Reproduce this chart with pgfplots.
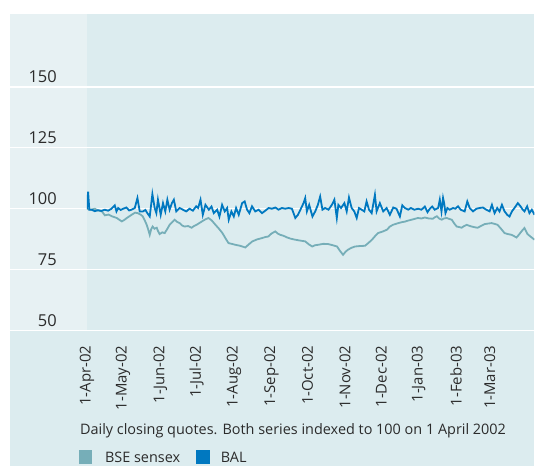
\documentclass[border=0pt]{standalone}
\usepackage{pgfplots}
\pgfplotsset{compat=1.18}
\usepackage{fontspec}
\setmainfont{Open Sans}
\definecolor{panel}{HTML}{DCECEF}
\definecolor{leftcol}{HTML}{E7F1F3}
\definecolor{balc}{RGB}{0,120,192}
\definecolor{bsec}{RGB}{118,174,184}
\definecolor{txt}{HTML}{2B2B2B}
\begin{document}
\begin{tikzpicture}[x=1bp,y=1bp]
\fill[white] (0,0) rectangle (535,467);
\fill[panel] (10,0) rectangle (535,453);
\fill[leftcol] (10,136) rectangle (87,453);
\foreach \yy in {136,197,258,319,380}{\draw[white,line width=1.3bp] (10,\yy) -- (535,\yy);}
\begin{axis}[
  at={(87bp,136bp)}, anchor=south west,
  width=448bp, height=316bp, scale only axis,
  xmin=0, xmax=371, ymin=50, ymax=179.5,
  axis line style={draw=none},
  major tick length=0pt,
  /pgf/number format/assume math mode=true,
  ytick={50,75,100,125,150},
  yticklabel style={font=\fontsize{16.5}{19}\selectfont, text=txt, anchor=east, inner sep=0pt, xshift=-30bp, yshift=10bp},
  xtick={0,30,61,91,122,153,183,214,244,275,306,334},
  xticklabels={1-Apr-02,1-May-02,1-Jun-02,1-Jul-02,1-Aug-02,1-Sep-02,1-Oct-02,1-Nov-02,1-Dec-02,1-Jan-03,1-Feb-03,1-Mar-03},
  xticklabel style={font=\fontsize{15}{17}\selectfont, text=txt, yshift=-15bp, rotate=90, anchor=east, inner sep=0pt},
  clip=true,
]
\addplot[bsec, line width=1.8bp] coordinates {
(0,100) (3,99.6) (6.6,100) (9,99.3) (12.4,98.9) (14.9,97.3) (18,97.6) (20.7,96.9) (24.8,96.2) (26.5,95.6) (28.9,94.8) (31,95.4) (33.1,96.2) (35.5,97.0) (38,97.8) (40,98.4) (42.1,98.2) (44.5,97.6) (46.3,96.9) (48,95.2) (49.6,93.4) (51,91.2) (52.1,89.3) (53.3,91.6) (54.5,92.7) (56,91.8) (57.9,92.2) (59,90.8) (60.3,89.6) (62.5,90.3) (64.5,90.0) (66.5,91.6) (68.6,93.4) (70.5,94.4) (72.7,95.5) (74.8,94.6) (76.9,94.1) (79,93.1) (81,92.7) (84,92.9) (86.8,92.2) (88.8,92.9) (90.9,93.4) (93.5,94.2) (96,95.0) (98.5,95.7) (100.8,96.2) (103.5,95.2) (106.6,93.4) (109.5,91.8) (112.4,90.0) (115,87.8) (117.4,85.9) (120,85.6) (123.1,85.2) (127,84.8) (131.4,84.1) (134,85.3) (137.2,86.6) (141,87.4) (145.5,88.0) (148,88.4) (150.4,88.6) (153,89.8) (156.2,90.7) (158.3,89.8) (160.3,89.3) (163,88.9) (166.1,88.2) (169,87.7) (172.7,87.3) (176,87.0) (181,86.6) (184,85.4) (186.8,84.5) (189,85.0) (191.7,85.2) (196,85.6) (200,85.5) (204,85.0) (207.4,84.5) (210,82.6) (212.4,81.1) (214.5,82.4) (216.5,83.2) (219.5,84.0) (222.3,84.5) (226.5,84.7) (230.6,84.8) (233.5,86.0) (236.4,87.3) (239,88.8) (241.3,90.0) (245,90.6) (248.8,91.4) (251,92.6) (253.7,93.4) (257.5,94.0) (261.2,94.5) (263.6,94.7) (266.1,95.1) (270,95.6) (274.4,96.2) (277.4,96.0) (280.2,96.4) (283.5,96.0) (286.8,95.9) (288.5,96.5) (290.1,96.9) (292,96.0) (294.2,95.5) (296,96.0) (298.3,96.2) (300.5,95.8) (302.5,95.5) (304.5,94.0) (306.6,92.7) (308.6,92.5) (310.7,92.2) (312.8,92.9) (314.9,93.4) (317,93.0) (319,92.7) (321.5,92.4) (324,92.2) (327,93.0) (329.8,93.7) (332.5,93.9) (335.5,94.1) (338,93.8) (340.5,93.4) (343.5,91.7) (346.3,90.0) (349,89.6) (352.1,89.3) (354,88.8) (356.2,88.2) (358.3,89.4) (360.3,90.7) (362.8,92.1) (365.3,89.6) (368,88.5) (371.1,87.3)
};
\addplot[balc, line width=1.8bp] coordinates {
(0,100) (1,107) (2,99.6) (3.9,99.6) (6.5,99.0) (9.4,99.4) (12,99.1) (14.9,99.6) (17.6,99.2) (20.4,100) (23.1,101.4) (24.5,98.9) (25.9,100.3) (28,99.5) (30,100) (32.8,100.5) (35,99.3) (36.9,99.6) (39.7,100.3) (41.9,104.4) (43.8,98.9) (46.5,98.9) (48.5,99.5) (50.1,98.2) (52.1,96.8) (54.3,106) (56.2,100.3) (57.6,98.2) (58.9,103.7) (61.2,97.5) (63.1,102.3) (65,98.9) (66.7,103.7) (68.6,99.6) (70.5,102.3) (72.1,103.7) (74.1,98.9) (76.9,100.3) (79.6,99.6) (82.4,98.9) (85.1,100) (87.9,99.2) (90.6,101) (92.2,100.3) (94.2,103.7) (96.1,97.5) (98.3,101.6) (101.1,99.6) (103.3,100.9) (105.2,98.2) (108,99.6) (109.9,96.8) (112.1,101.6) (114.3,98.9) (116.3,100.3) (117.6,95.5) (119.8,98.9) (121.8,96.8) (123.7,100.3) (125.9,97.5) (128.7,102.3) (130.8,103) (132.8,99.6) (134.7,98.2) (136.9,101) (139.6,98.9) (142.4,99.6) (145.2,98.2) (147.9,99.2) (150.7,100.3) (153.4,100) (156.2,100.5) (158.9,99.6) (161.7,100.3) (164.5,100) (167.2,100.3) (170,100) (172.8,96.2) (175,97.5) (177.7,100.3) (179.6,102.3) (181,104.4) (182.4,98.9) (184.3,101.6) (187,96.8) (189.3,98.9) (191.5,101.6) (193.4,105) (195.3,99.6) (197.5,100.3) (200.3,99.6) (203.1,101.6) (205.2,103.7) (207.2,96.2) (208.5,101.6) (210.7,100.3) (213.5,102.3) (215.4,98.9) (217.3,104.6) (219.5,100.3) (221.7,98.9) (223.7,96.2) (225.6,100.3) (227.8,99.6) (230,98.9) (231.9,103) (233.9,99.6) (236.1,98.2) (238.8,105.7) (240.2,98.9) (242.9,102.3) (245.7,98.9) (248.5,100.3) (251.2,97.5) (254,100.5) (256.7,100) (259.5,96.8) (261.5,101.4) (263.6,100.3) (266.4,99.6) (268.6,100.3) (271.4,99.6) (274.7,100) (277.4,99.6) (280.2,100.9) (282.4,98.6) (284.3,100) (286.3,100.9) (288.4,99.6) (291.2,100.3) (292.6,103.7) (294,98.9) (295.3,104.4) (296.2,102.3) (297.3,98.2) (298.9,100.3) (300.8,99.6) (303.6,100.3) (305.5,100) (307.7,101) (309.9,99.6) (313.2,98.9) (315.4,103) (317.4,100.3) (320.1,98.9) (322.9,100) (325.6,100.3) (328.4,100.5) (331.1,99.6) (333.9,98.9) (335.8,101.6) (338,98.2) (340.2,100.3) (342.1,98.9) (344.1,101.6) (346.3,98.9) (348.5,97.5) (350.4,96.8) (352.4,98.9) (354.5,100.3) (357.3,102.3) (359.5,101) (361.4,99.6) (362.8,98.9) (365,101) (366.9,98.2) (368.9,99.6) (371.1,97.5)
};
\end{axis}
\node[anchor=base west, inner sep=0pt, text=txt, font=\fontsize{14.5}{17}\selectfont] at (80,32) {Daily closing quotes. Both series indexed to 100 on 1 April 2002};
\fill[bsec] (79,2) rectangle (92,16);
\node[anchor=base west, inner sep=0pt, text=txt, font=\fontsize{14.5}{17}\selectfont] at (105,4) {BSE sensex};
\fill[balc] (196,2) rectangle (210,16);
\node[anchor=base west, inner sep=0pt, text=txt, font=\fontsize{14.5}{17}\selectfont] at (221,4) {BAL};
\end{tikzpicture}
\end{document}
